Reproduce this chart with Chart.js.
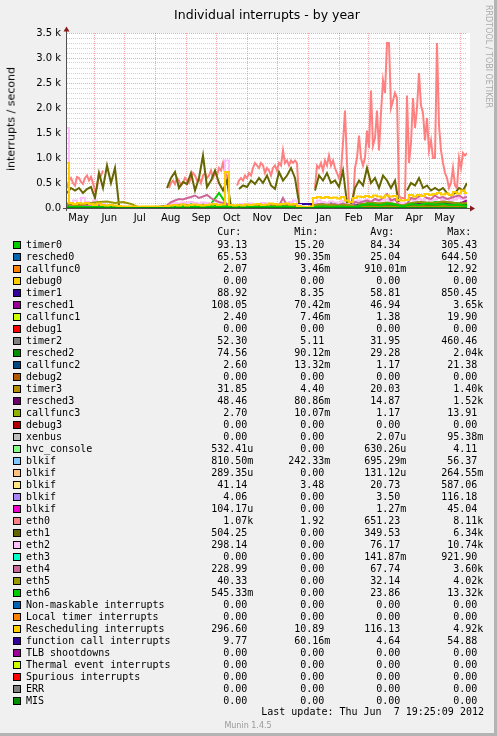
<!DOCTYPE html>
<html>
<head>
<meta charset="utf-8">
<script src="https://cdn.jsdelivr.net/npm/chart.js@4.4.0/dist/chart.umd.min.js"></script>
<style>
  body { margin: 0; background: #f0f0f0; }
  #marco {
    position: relative; width: 494px; height: 733px; background: #f0f0f0;
    border-right: 3px solid #b4b4b4; border-bottom: 3px solid #b4b4b4;
    overflow: hidden; font-family: 'DejaVu Sans', sans-serif; color: #000;
  }
  #grafico { position: absolute; left: 0; top: 0; }
  .txt { position: absolute; white-space: pre; }
  .mono { font-family: 'DejaVu Sans Mono', monospace; font-size: 10px; line-height: 12px; }
  .der { text-align: right; width: 300px; }
  .caja { position: absolute; width: 8px; height: 8px; box-sizing: border-box; border: 1px solid #000; }
</style>
</head>
<body>
<div id="marco">
  <canvas id="grafico" width="494" height="230"></canvas>
  <div class="txt" style="left:267px; top:14px; transform:translate(-50%,-50%); font-size:12.5px;">Individual interrupts - by year</div>
  <div class="txt" style="left:11px; top:119px; transform:translate(-50%,-50%) rotate(-90deg); font-size:11px;">interrupts / second</div>
  <div class="txt" style="left:484px; top:5px; writing-mode:vertical-rl; font-size:8px; color:#aaa;">RRDTOOL / TOBI OETIKER</div>
  <div id="leyenda"></div>
  <div class="txt mono der" style="left:184px; top:706px;">Last update: Thu Jun  7 19:25:09 2012</div>
  <div class="txt" style="left:248px; top:725px; transform:translate(-50%,-50%); font-size:8px; color:#999;">Munin 1.4.5</div>
</div>
<script>
// dias desde el inicio del grafico (4 may 2011 19:25) hasta el dia 1 de cada mes
const monthStart = [-3.8, 27.2, 57.2, 88.2, 119.2, 149.2, 180.2, 210.2, 241.2, 272.2, 301.2, 332.2, 362.2, 393.2];
const monthLabels = ['May', 'Jun', 'Jul', 'Aug', 'Sep', 'Oct', 'Nov', 'Dec', 'Jan', 'Feb', 'Mar', 'Apr', 'May'];
const yTickLabels = ['0.0', '0.5 k', '1.0 k', '1.5 k', '2.0 k', '2.5 k', '3.0 k', '3.5 k'];

// series (cada 2, 4 u 8 dias)
const eth0 = [
  400,550,600,500,450,620,600,520,480,600,650,550,620,500,350,400,700,650,750,
  null,null,null,null,null,null,null,null,null,null,null,null,null,null,null,null,
  null,null,null,null,null,null,null,null,null,null,null,null,null,null,null,null,
  400,500,550,480,600,550,450,500,600,550,500,600,700,650,550,600,500,650,700,600,
  650,750,600,700,650,800,750,900,700,650,300,
  null,null,null,
  450,550,600,550,650,600,700,650,800,900,850,800,900,850,700,800,750,650,800,850,
  750,900,850,1150,900,950,850,950,900,950,900,150,
  null,null,null,null,null,null,null,
  400,850,800,900,750,950,850,1050,850,950,800,700,600,750,1300,1950,900,100,50,100,
  800,1000,1450,1000,850,1000,1550,1200,2350,1250,1400,1950,1150,1900,2550,2300,3300,3300,2000,2150,
  2300,2200,250,200,200,200,2250,900,1300,2200,1600,2000,2700,2050,1900,1350,1800,1150,1350,1000,
  1000,3300,1650,1150,900,700,600,400,500,800,450,400,1000,800,1100,1050,1100
];
const eth1 = [
  300,400,350,400,300,380,420,200,700,400,850,500,800,50,
  null,null,null,null,null,null,null,null,null,null,null,
  400,600,720,400,520,480,700,350,600,1050,420,550,750,500,350,550,20,
  null,
  380,450,420,550,480,600,500,650,450,380,720,550,650,800,600,100,
  null,null,null,
  350,650,550,700,500,550,420,750,100,50,400,550,450,800,500,600,400,650,550,400,550,50,
  null,
  350,500,450,600,400,450,350,400,350,400,300,250,300,400,350,500
];
const eth2 = [
  1600,100,150,80,200,120,60,150,100,80,60,40,30,20,
  10,10,10,10,10,10,10,10,10,10,10,
  50,80,100,90,110,100,120,100,90,110,100,80,90,70,80,
  950,
  50,30,60,80,70,90,60,80,100,90,70,60,80,100,80,120,150,
  60,20,20,20,
  100,150,120,100,130,110,90,140,80,60,130,150,120,170,140,160,130,150,170,140,160,
  100,90,100,170,150,180,160,190,150,170,200,160,180,150,170,200,180,290
];
const eth4 = [
  100,50,40,60,50,40,30,50,40,30,20,20,10,10,
  0,0,0,0,0,0,0,0,0,0,0,
  50,120,150,180,170,200,220,250,200,230,260,200,150,120,100,
  80,
  20,10,30,40,30,50,40,60,50,40,60,50,40,200,50,60,40,
  20,0,0,0,
  60,80,70,60,80,70,60,90,50,30,120,100,130,150,120,180,150,200,280,150,180,
  60,50,80,200,180,230,250,200,180,250,200,220,180,200,230,250,200,220
];
const reschedInt = [
  900,100,80,100,90,100,80,60,90,60,50,60,50,40,
  30,30,30,30,30,30,30,30,30,30,30,
  40,50,60,50,70,50,60,70,60,50,60,70,80,60,70,
  720,
  60,50,60,50,70,60,70,80,60,70,90,80,70,80,90,70,80,
  40,20,20,20,
  200,220,200,220,200,210,190,220,150,120,200,230,220,240,220,250,230,210,250,230,240,
  160,150,160,260,230,260,240,280,260,280,300,270,290,260,320,290,350,300
];
const timer0 = [60,70,50,60,40,50,30,20,20,20,20,20,30,60,70,80,60,70,80,300,60,40,50,60,50,60,50,70,60,30,20,20,90,100,80,90,40,100,110,90,100,80,60,100,110,90,120,100,110,90,100];
const timer1 = [80,60,50,60,50,40,30,10,10,10,10,10,30,50,60,60,50,60,70,60,60,40,50,60,50,60,60,70,60,80,80,80,60,70,60,70,50,60,70,60,70,60,50,70,80,60,70,80,70,60,80];
const resched1 = [60,40,30,40,30,30,20,10,10,10,10,10,20,40,50,50,40,60,50,40,30,20,30,40,40,30,40,50,40,10,10,40,50,60,40,50,30,60,80,70,90,60,40,80,120,100,90,130,110,80,150];
const timer2 = [40,30,30,30,20,20,20,10,10,10,10,10,20,30,30,40,30,30,40,30,30,20,30,30,30,30,30,40,30,10,10,40,40,40,30,40,30,40,40,40,50,40,30,40,50,40,40,50,40,50,50];
const resched2 = [30,20,20,20,20,20,10,10,10,10,10,10,20,30,30,40,30,40,40,50,30,20,20,30,30,20,30,30,30,10,10,30,40,30,30,40,20,40,50,40,50,40,30,50,60,50,40,60,50,40,70];
const timer3 = [30,20,20,20,20,10,10,10,10,10,10,10,10,20,20,20,20,20,30,20,20,10,20,20,20,20,20,20,20,10,10,20,30,20,20,30,20,30,30,30,30,30,20,30,40,30,30,40,30,30,30];
const eth5 = [80,60,70,100,120,130,100,120,80,10,10,10,10,40,50,60,50,60,50,40,40,30,30,40,40,30,40,50,40,10,10,60,70,60,50,70,30,80,100,90,110,80,50,100,120,110,100,130,110,90,100];
const eth6 = [20,20,20,20,20,20,20,20,20,20,20,20,20,20,30,40,30,40,30,40,30,20,20,30,20,30,20,30,20,10,10,20,30,20,30,20,20,60,80,50,90,70,30,80,60,90,70,80,60,70,40];
const mis = [0, 0];

// leyenda
const names = ['timer0','resched0','callfunc0','debug0','timer1','resched1','callfunc1','debug1','timer2','resched2','callfunc2','debug2','timer3','resched3','callfunc3','debug3','xenbus','hvc_console','blkif','blkif','blkif','blkif','blkif','eth0','eth1','eth2','eth3','eth4','eth5','eth6','Non-maskable interrupts','Local timer interrupts','Rescheduling interrupts','function call interrupts','TLB shootdowns','Thermal event interrupts','Spurious interrupts','ERR','MIS'];
const colors = ['#00CC00','#0066B3','#FF8000','#FFCC00','#330099','#990099','#CCFF00','#FF0000','#808080','#008F00','#00487D','#B35A00','#B38F00','#6B006B','#8FB300','#B30000','#BEBEBE','#80FF80','#80C9FF','#FFC080','#FFE680','#AA80FF','#EE00CC','#FF8080','#666600','#FFBFFF','#00FFCC','#CC6699','#999900','#00CC00','#0066B3','#FF8000','#FFCC00','#330099','#990099','#CCFF00','#FF0000','#808080','#008F00'];
const curVals = ['93.13','65.53','2.07','0.00','88.92','108.05','2.40','0.00','52.30','74.56','2.60','0.00','31.85','48.46','2.70','0.00','0.00','532.41u','810.50m','289.35u','41.14','4.06','104.17u','1.07k','504.25','298.14','0.00','228.99','40.33','545.33m','0.00','0.00','296.60','9.77','0.00','0.00','0.00','0.00','0.00'];
const minVals = ['15.20','90.35m','3.46m','0.00','8.35','70.42m','7.46m','0.00','5.11','90.12m','13.32m','0.00','4.40','80.86m','10.07m','0.00','0.00','0.00','242.33m','0.00','3.48','0.00','0.00','1.92','0.00','0.00','0.00','0.00','0.00','0.00','0.00','0.00','10.89','60.16m','0.00','0.00','0.00','0.00','0.00'];
const avgVals = ['84.34','25.04','910.01m','0.00','58.81','46.94','1.38','0.00','31.95','29.28','1.17','0.00','20.03','14.87','1.17','0.00','2.07u','630.26u','695.29m','131.12u','20.73','3.50','1.27m','651.23','349.53','76.17','141.87m','67.74','32.14','23.86','0.00','0.00','116.13','4.64','0.00','0.00','0.00','0.00','0.00'];
const maxVals = ['305.43','644.50','12.92','0.00','850.45','3.65k','19.90','0.00','460.46','2.04k','21.38','0.00','1.40k','1.52k','13.91','0.00','95.38m','4.11','56.37','264.55m','587.06','116.18','45.04','8.11k','6.34k','10.74k','921.90','3.60k','4.02k','13.32k','0.00','0.00','4.92k','54.88','0.00','0.00','0.00','0.00','0.00'];

// que serie va con cada fila de la leyenda, cada cuantos dias va un valor
// y si se dibuja escalonada (los picos estrechos del principio y de octubre)
const seriesByRow = {
  0: [timer0, 8], 4: [timer1, 8], 5: [resched1, 8], 8: [timer2, 8], 9: [resched2, 8],
  12: [timer3, 8], 23: [eth0, 2], 24: [eth1, 4], 25: [eth2, 4, 'middle'], 27: [eth4, 4],
  28: [eth5, 8], 29: [eth6, 8], 32: [reschedInt, 4, 'middle'], 38: [mis, 400]
};

const MAJOR = 'rgba(222, 48, 48, 0.42)';
const MINOR = 'rgba(143, 143, 143, 0.4)';

const toPoints = (vals, step) => vals.map((v, i) => ({x: i * step, y: v}));

const buildLegend = () => {
  const cont = document.getElementById('leyenda');
  let html = '';
  const edges = [253.3, 330.3, 406.3, 483.3];
  const heads = ['Cur:', 'Min:', 'Avg:', 'Max:'];
  heads.forEach((h, c) => {
    html += `<div class="txt mono der" style="left:${edges[c] - 300}px; top:226px;">${h}  </div>`;
  });
  names.forEach((n, i) => {
    const y = 245 + 12 * i;
    html += `<div class="caja" style="left:13px; top:${y - 4}px; background:${colors[i]};"></div>`;
    html += `<div class="txt mono" style="left:26px; top:${y - 6}px;">${n}</div>`;
    [curVals, minVals, avgVals, maxVals].forEach((col, c) => {
      const v = col[i];
      const s = /[a-z]$/.test(v) ? v : v + ' ';
      html += `<div class="txt mono der" style="left:${edges[c] - 300}px; top:${y - 6}px;">${s}</div>`;
    });
  });
  cont.innerHTML = html;
};

const plotBg = {
  id: 'plotBg',
  beforeDraw(chart) {
    const {ctx, chartArea: {left, top, width, height}} = chart;
    ctx.save();
    ctx.fillStyle = '#ffffff';
    ctx.fillRect(left, top, width + 3, height);
    ctx.restore();
  }
};

// ejes con flechas al estilo rrdtool
const axes = {
  id: 'axes',
  afterDraw(chart) {
    const {ctx, chartArea: {left, right, top, bottom}} = chart;
    ctx.save();
    ctx.strokeStyle = '#505050';
    ctx.lineWidth = 1;
    ctx.beginPath();
    ctx.moveTo(left - 4, bottom + 0.5);
    ctx.lineTo(right + 4, bottom + 0.5);
    ctx.moveTo(left - 0.5, bottom + 3);
    ctx.lineTo(left - 0.5, top - 3);
    ctx.stroke();
    ctx.fillStyle = '#8b1a1a';
    ctx.beginPath();
    ctx.moveTo(right + 3, bottom - 2.5);
    ctx.lineTo(right + 8, bottom + 0.5);
    ctx.lineTo(right + 3, bottom + 3.5);
    ctx.fill();
    ctx.beginPath();
    ctx.moveTo(left - 3.5, top - 1.5);
    ctx.lineTo(left - 0.5, top - 6.5);
    ctx.lineTo(left + 2.5, top - 1.5);
    ctx.fill();
    ctx.restore();
  }
};

const drawChart = () => {
  Chart.defaults.font.family = "'DejaVu Sans', sans-serif";
  Chart.defaults.font.size = 10;
  Chart.defaults.color = '#000';

  const datasets = [];
  names.forEach((n, i) => {
    const s = seriesByRow[i];
    if (!s) return;
    datasets.push({
      label: n,
      data: toPoints(s[0], s[1]),
      borderColor: colors[i],
      backgroundColor: colors[i],
      borderWidth: 2,
      pointRadius: 0,
      tension: 0,
      stepped: s[2] || false,
      spanGaps: false,
      fill: false,
      order: -i
    });
  });

  // lineas de mes en el dia 1, nombre del mes en el centro
  const xTicks = [];
  monthStart.forEach((d, i) => {
    if (d > 0) xTicks.push({value: d});
    if (i < monthLabels.length) {
      const mid = (d + monthStart[i + 1]) / 2;
      xTicks.push({value: mid, name: monthLabels[i]});
    }
  });
  xTicks.sort((a, b) => a.value - b.value);

  const yTicks = [];
  for (let v = 0; v <= 3500; v += 100) yTicks.push({value: v});

  new Chart(document.getElementById('grafico'), {
    type: 'line',
    data: {datasets},
    options: {
      responsive: false,
      animation: false,
      events: [],
      layout: {padding: {top: 33, right: 27, left: 0, bottom: 0}},
      plugins: {legend: {display: false}, tooltip: {enabled: false}},
      scales: {
        x: {
          type: 'linear', min: 0, max: 400,
          afterBuildTicks: (scale) => { scale.ticks = xTicks.map(t => ({...t})); },
          afterFit: (scale) => { scale.height = 22; },
          ticks: {
            autoSkip: false, maxRotation: 0, minRotation: 0, padding: 4,
            callback: (v, i, ticks) => ticks[i].name || ''
          },
          grid: {
            drawTicks: false,
            color: MAJOR,
            lineWidth: (ctx) => (ctx.tick && ctx.tick.name) ? 0 : 1
          },
          border: {display: false, dash: [1, 1]}
        },
        y: {
          min: 0, max: 3500,
          afterBuildTicks: (scale) => { scale.ticks = yTicks.map(t => ({...t})); },
          afterFit: (scale) => { scale.width = 67; },
          ticks: {
            autoSkip: false, padding: 6,
            callback: (v) => v % 500 === 0 ? yTickLabels[v / 500] : ''
          },
          grid: {
            drawTicks: false,
            color: (ctx) => (ctx.tick && ctx.tick.value % 500 === 0) ? MAJOR : MINOR
          },
          border: {display: false, dash: [1, 1]}
        }
      }
    },
    plugins: [plotBg, axes]
  });
};

buildLegend();
drawChart();
</script>
</body>
</html>
